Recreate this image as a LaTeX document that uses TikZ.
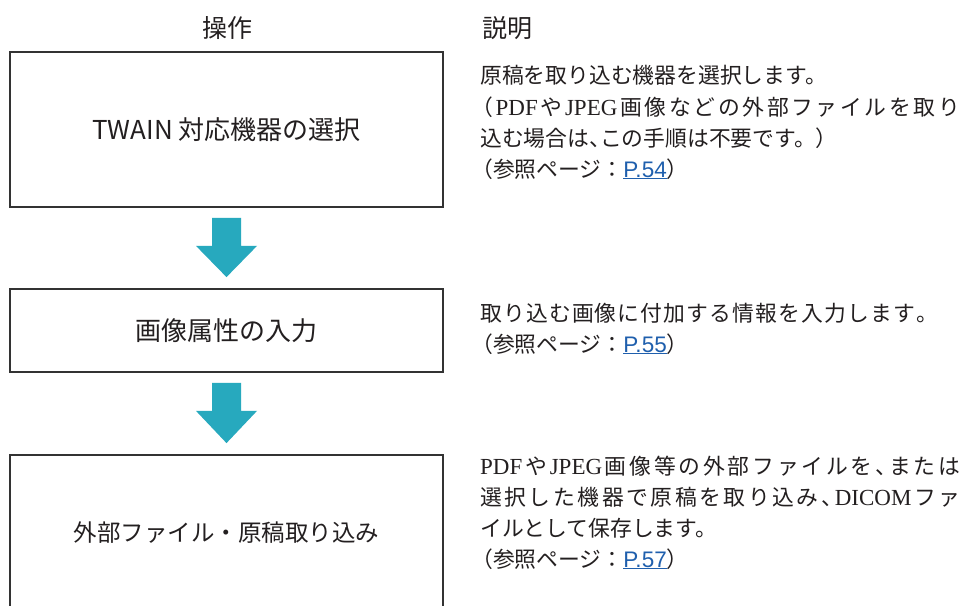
\documentclass[tikz,border=0pt]{standalone}
\usepackage{fontspec}
\setmainfont{Noto Sans CJK JP}
\newfontfamily\jpsans{Noto Sans CJK JP}
\newfontfamily\latser{Liberation Serif}
\newfontfamily\latsans{Liberation Sans}
\usetikzlibrary{calc}
\definecolor{ink}{HTML}{231F20}
\definecolor{framecol}{HTML}{333333}
\definecolor{arrowcol}{HTML}{27A9BE}
\definecolor{linkcol}{HTML}{1F5FAD}
\newcommand\pglink[1]{{\latsans\fontsize{22.5}{31}\selectfont\color{linkcol}\underline{#1}}}
\newcommand\lPDF{{\latser\fontsize{23}{31}\selectfont PDF}}
\newcommand\lJPEG{{\latser\fontsize{23}{31}\selectfont JPEG}}
\newcommand\lDICOM{{\latser\fontsize{23}{31}\selectfont DICOM}}
\newcommand\hten{\makebox[0.5em][l]{、}}
\def\spreadstop{\spreadstop}
\def\spreadA#1{\ifx#1\spreadstop\else#1\expandafter\spreadB\fi}
\def\spreadB#1{\ifx#1\spreadstop\else\hfill#1\expandafter\spreadB\fi}
\newcommand\spreadline[2]{\hbox to #1{\spreadA#2\spreadstop}}
\newcommand\flowarrow[2]{%
  \fill[arrowcol] ($(#1.south)+(-14.5,10)$) -- ++(29,0) -- ++(0,28) -- ++(16,0)
    -- ($(#2.north)+(0,-11)$) -- ($(#1.south)+(-30.5,38)$) -- ++(16,0) -- cycle;}
\begin{document}
\begin{tikzpicture}[x=1pt,y=-1pt,
  stepbox/.style={draw=framecol, line width=1.8pt, fill=white, minimum width=433pt,
    inner sep=0pt, text=ink, font=\jpsans\fontsize{26}{30}\selectfont},
  head/.style={text=ink, inner sep=0pt, font=\jpsans\fontsize{25}{28}\selectfont},
  rt/.style={anchor=base west, inner sep=0pt, text=ink, font=\jpsans\fontsize{21.8}{31}\selectfont}]
\useasboundingbox (0,0) rectangle (961,605);
\fill[white] (0,0) rectangle (961,605);
% headers
\node[head] (h1) at (227,28) {操作};
\node[head] (h2) at (507,28) {説明};
% boxes
\node[stepbox, minimum height=155pt] (b1) at (226.5,129.5) {TWAIN\kern6pt 対応機器の選択};
\node[stepbox, minimum height=83pt] (b2) at (226.5,330.5) {画像属性の入力};
\node[stepbox, minimum height=156pt, font=\jpsans\fontsize{23.5}{28}\selectfont] (b3) at (226.5,533) {外部ファイル・原稿取り込み};
% arrows
\flowarrow{b1}{b2}
\flowarrow{b2}{b3}
% descriptions
\node[rt] (d1a) at (480,83) {原稿を取り込む機器を選択します。};
\node[rt] (d1b) at (471,115) {\spreadline{489pt}{（\lPDF や\lJPEG 画像などの外部ファイルを取り}};
\node[rt] (d1c) at (480,146) {込む場合は\hten この手順は不要です。）};
\node[rt] (d1d) at (471,177) {（参照ページ：\pglink{P.54}）};
\node[rt] (d2a) at (480,321) {\spreadline{458pt}{取り込む画像に付加する情報を入力します。}};
\node[rt] (d2b) at (471,352) {（参照ページ：\pglink{P.55}）};
\node[rt] (d3a) at (480,474) {\spreadline{480pt}{\lPDF や\lJPEG 画像等の外部ファイルを\hten または}};
\node[rt] (d3b) at (480,505) {\spreadline{480pt}{選択した機器で原稿を取り込み\hten\lDICOM ファ}};
\node[rt] (d3c) at (480,536) {イルとして保存します。};
\node[rt] (d3d) at (471,567) {（参照ページ：\pglink{P.57}）};
\end{tikzpicture}
\end{document}
